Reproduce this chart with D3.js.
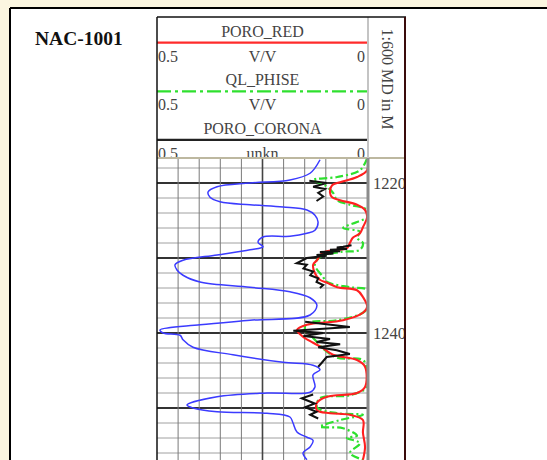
<!DOCTYPE html>
<html>
<head>
<meta charset="utf-8">
<script src="https://cdn.jsdelivr.net/npm/d3@7"></script>
<style>
  body { margin: 0; background: #fbf6e0; }
  svg { display: block; }
</style>
</head>
<body>
<div id="chart"></div>
<script>
const wellName = 'NAC-1001';
const depthScaleLabel = '1:600 MD in M';
const curveNames = ['PORO_RED', 'QL_PHISE', 'PORO_CORONA'];
const curveUnits = ['V/V', 'V/V', 'unkn'];
const scaleLeft = ['0.5', '0.5', '0.5'];
const scaleRight = ['0', '0', '0'];
const depthLabels = [1220, 1240];

// blue curve (header not shown), track scale 0..150
const blueDepth = [1216.9, 1218.7, 1219.6, 1220.0, 1220.5, 1221.2, 1221.9, 1222.5, 1222.9, 1223.2, 1223.6, 1224.3, 1225.2, 1226.3, 1226.7, 1227.1, 1227.2, 1227.9, 1228.5, 1228.9, 1229.6, 1230.3, 1230.9, 1231.6, 1232.3, 1233.2, 1233.9, 1234.5, 1235.3, 1236.3, 1237.6, 1238.3, 1238.9, 1239.6, 1240.0, 1240.3, 1240.9, 1241.9, 1242.9, 1243.9, 1244.3, 1244.9, 1245.6, 1247.2, 1247.9, 1248.0, 1248.5, 1249.6, 1250.0, 1250.5, 1250.7, 1251.2, 1252.0, 1253.2, 1253.9, 1254.3, 1255.2, 1256.0, 1256.9];
const blueValue = [115.9, 108.8, 94.5, 66.1, 42.7, 36.3, 37.7, 44.8, 66.1, 89.6, 106.6, 112.3, 114.5, 112.3, 106.6, 94.5, 75.4, 71.8, 75.4, 66.1, 42.7, 18.5, 12.8, 14.2, 18.5, 30.6, 66.1, 94.5, 108.8, 113.7, 108.8, 66.1, 30.6, 2.1, 4.3, 16.4, 18.5, 25.6, 54.0, 89.6, 110.9, 115.9, 110.9, 112.3, 108.8, 78.2, 42.7, 21.3, 25.6, 42.7, 78.2, 94.5, 96.7, 99.5, 106.6, 110.9, 108.8, 103.8, 106.6];

// PORO_RED, V/V, 0.5 (left) .. 0 (right)
const redDepth = [1216.7, 1218.3, 1219.2, 1219.9, 1220.3, 1221.3, 1221.9, 1222.3, 1222.9, 1223.6, 1224.5, 1225.9, 1226.7, 1227.3, 1228.0, 1228.7, 1228.9, 1229.3, 1230.3, 1230.9, 1232.0, 1232.9, 1233.3, 1233.9, 1234.3, 1235.2, 1236.5, 1237.3, 1238.3, 1238.9, 1239.6, 1240.5, 1241.3, 1242.0, 1242.9, 1243.6, 1244.5, 1247.2, 1248.0, 1248.5, 1249.3, 1250.3, 1250.7, 1250.9, 1251.6, 1253.3, 1255.2, 1256.9];
const redValue = [0.000, 0.002, 0.026, 0.066, 0.085, 0.090, 0.085, 0.066, 0.026, 0.007, 0.002, 0.012, 0.019, 0.036, 0.043, 0.050, 0.073, 0.107, 0.121, 0.130, 0.126, 0.114, 0.097, 0.073, 0.026, 0.012, 0.002, 0.012, 0.059, 0.145, 0.168, 0.154, 0.130, 0.107, 0.083, 0.026, 0.007, 0.007, 0.026, 0.097, 0.121, 0.121, 0.090, 0.043, 0.012, 0.012, 0.007, 0.012];

// QL_PHISE, V/V
const greenDepth = [1216.7, 1218.3, 1219.2, 1219.6, 1220.3, 1221.3, 1222.3, 1222.9, 1223.6, 1224.5, 1225.2, 1226.0, 1226.5, 1227.3, 1228.0, 1228.9, 1229.2, 1229.9, 1230.9, 1232.5, 1233.2, 1233.9, 1234.3, 1236.5, 1237.3, 1238.3, 1238.7, 1239.6, 1240.9, 1242.3, 1243.3, 1243.6, 1244.9, 1247.2, 1248.3, 1248.7, 1249.9, 1250.7, 1250.9, 1251.6, 1252.5, 1252.7, 1253.7, 1254.0, 1254.7, 1256.0, 1256.9];
const greenValue = [0.002, 0.019, 0.073, 0.130, 0.102, 0.083, 0.073, 0.043, 0.002, 0.000, 0.026, 0.059, 0.019, 0.026, 0.012, 0.019, 0.066, 0.114, 0.126, 0.107, 0.097, 0.043, 0.000, 0.000, 0.012, 0.073, 0.145, 0.149, 0.126, 0.102, 0.073, 0.012, 0.002, 0.002, 0.043, 0.114, 0.121, 0.073, 0.012, 0.066, 0.114, 0.059, 0.026, 0.050, 0.019, 0.043, 0.012];

// PORO_CORONA, unkn (null = no data)
const coronaDepth = [1219.7, 1220.0, 1220.5, 1220.8, 1221.3, 1221.8, 1222.4, null,
  1228.3, 1228.5, 1228.6, 1228.8, 1228.9, 1229.1, 1229.2, 1229.4, 1229.6, 1229.7, 1230.0, 1230.7, 1230.9, 1231.4, 1231.8, 1232.3, 1232.7, 1233.2, 1233.6, 1234.0, null,
  1238.5, 1239.2, 1239.7, 1240.0, 1240.4, 1240.8, 1241.2, 1241.5, 1241.9, 1242.3, 1242.8, 1243.2, 1244.0, 1244.5, null,
  1248.2, 1248.7, 1249.4, 1249.9, 1250.5, 1250.9, 1251.4];
const coronaValue = [0.139, 0.098, 0.130, 0.102, 0.118, 0.106, 0.122, null,
  0.039, 0.059, 0.074, 0.050, 0.090, 0.066, 0.114, 0.082, 0.122, 0.098, 0.145, 0.169, 0.145, 0.153, 0.130, 0.137, 0.118, 0.122, 0.106, 0.114, null,
  0.149, 0.043, 0.177, 0.106, 0.153, 0.090, 0.122, 0.066, 0.118, 0.074, 0.043, 0.098, 0.110, 0.118, null,
  0.130, 0.157, 0.126, 0.149, 0.122, 0.137, 0.118];

// ---- layout ----
const W = 547, H = 460;
const trackL = 157, trackR = 368, depthR = 405;
const boxTop = 17, headBottom = 158;
const serif = '"Liberation Serif", "DejaVu Serif", serif';

const svg = d3.select('#chart').append('svg')
  .attr('width', W).attr('height', H);

const defs = svg.append('defs');
defs.append('clipPath').attr('id', 'dataClip')
  .append('rect').attr('x', trackL).attr('y', headBottom).attr('width', trackR - trackL).attr('height', H - headBottom);
defs.append('clipPath').attr('id', 'headClip')
  .append('rect').attr('x', trackL).attr('y', boxTop).attr('width', depthR - trackL).attr('height', headBottom - boxTop);
defs.append('clipPath').attr('id', 'depthClip')
  .append('rect').attr('x', trackR).attr('y', headBottom).attr('width', depthR - trackR).attr('height', H - headBottom);

// white sheet inside the outer frame
svg.append('rect').attr('x', 10).attr('y', 8).attr('width', W).attr('height', H).attr('fill', '#fff');

// well name
svg.append('text')
  .attr('x', 35).attr('y', 45)
  .style('font-family', serif).style('font-size', '19.5px').style('font-weight', 'bold')
  .attr('fill', '#111')
  .text(wellName);

// scales
const y = d3.scaleLinear().domain([1220, 1240]).range([183, 333]);
const xPoro = d3.scaleLinear().domain([0.5, 0]).range([trackL, trackR]);
const xBlue = d3.scaleLinear().domain([0, 150]).range([trackL, trackR]);

// ---- header ----
const head = svg.append('g').attr('clip-path', 'url(#headClip)');
const rowGap = 48.6;
const lineColors = ['#ff2b2b', '#2ee02e', '#222'];
const headerData = curveNames.map((n, i) => ({ name: n, unit: curveUnits[i], l: scaleLeft[i], r: scaleRight[i], i }));

head.selectAll('g.curve-head')
  .data(headerData)
  .join('g')
  .attr('class', 'curve-head')
  .each(function (d) {
    const g = d3.select(this);
    const off = d.i * rowGap;
    const mid = (trackL + trackR) / 2;
    g.append('text').attr('x', mid).attr('y', 36.5 + off)
      .attr('text-anchor', 'middle')
      .style('font-family', serif).style('font-size', '16px').attr('fill', '#444')
      .text(d.name);
    const ln = g.append('line')
      .attr('x1', trackL).attr('x2', trackR)
      .attr('y1', 42.7 + off).attr('y2', 42.7 + off)
      .attr('stroke', lineColors[d.i]).attr('stroke-width', d.i === 2 ? 2.4 : 2.2);
    if (d.i === 1) ln.attr('stroke-dasharray', '14,4,3,4');
    g.append('text').attr('x', trackL + 1).attr('y', 61.5 + off)
      .style('font-family', serif).style('font-size', '16px').attr('fill', '#444')
      .text(d.l);
    g.append('text').attr('x', mid).attr('y', 61.5 + off)
      .attr('text-anchor', 'middle')
      .style('font-family', serif).style('font-size', '16px').attr('fill', '#444')
      .text(d.unit);
    g.append('text').attr('x', trackR - 3).attr('y', 61.5 + off)
      .attr('text-anchor', 'end')
      .style('font-family', serif).style('font-size', '16px').attr('fill', '#444')
      .text(d.r);
  });

// depth header, rotated text
svg.append('text')
  .attr('transform', `translate(${(trackR + depthR) / 2 - 5},79) rotate(90)`)
  .attr('text-anchor', 'middle')
  .style('font-family', serif).style('font-size', '16px').attr('fill', '#444')
  .text(depthScaleLabel);

// ---- grid ----
const grid = svg.append('g');
const depthTicks = d3.range(1218, 1257, 2);
grid.selectAll('line.h')
  .data(depthTicks)
  .join('line')
  .attr('class', 'h')
  .attr('x1', trackL).attr('x2', trackR)
  .attr('y1', d => y(d)).attr('y2', d => y(d))
  .attr('stroke', d => d % 10 === 0 ? '#333' : '#a0a0a0')
  .attr('stroke-width', d => d % 10 === 0 ? 2 : 1);

const poroTicks = xPoro.ticks(10).filter(t => t > 0.001 && t < 0.499);
grid.selectAll('line.v')
  .data(poroTicks)
  .join('line')
  .attr('class', 'v')
  .attr('x1', d => xPoro(d)).attr('x2', d => xPoro(d))
  .attr('y1', headBottom).attr('y2', H)
  .attr('stroke', d => Math.abs(d - 0.25) < 0.001 ? '#444' : '#7a7a7a')
  .attr('stroke-width', d => Math.abs(d - 0.25) < 0.001 ? 1.6 : 1);

// depth labels
svg.append('g').attr('clip-path', 'url(#depthClip)')
  .selectAll('text')
  .data(depthLabels)
  .join('text')
  .attr('x', trackR + 5).attr('y', d => y(d) + 5.5)
  .style('font-family', serif).style('font-size', '16.5px').attr('fill', '#444')
  .text(d => d);

// ---- curves ----
const curves = svg.append('g').attr('clip-path', 'url(#dataClip)');
const smooth = d3.curveCatmullRom.alpha(0.5);

const blueLine = d3.line().curve(smooth)
  .x((d, i) => xBlue(blueValue[i])).y(d => y(d));
curves.append('path').datum(blueDepth)
  .attr('d', blueLine).attr('fill', 'none')
  .attr('stroke', '#3b3bff').attr('stroke-width', 1.5);

const greenLine = d3.line().curve(smooth)
  .x((d, i) => xPoro(greenValue[i])).y(d => y(d));
curves.append('path').datum(greenDepth)
  .attr('d', greenLine).attr('fill', 'none')
  .attr('stroke', '#2ee02e').attr('stroke-width', 2.2)
  .attr('stroke-dasharray', '8,3,2,3');

const redLine = d3.line().curve(smooth)
  .x((d, i) => xPoro(redValue[i])).y(d => y(d));
curves.append('path').datum(redDepth)
  .attr('d', redLine).attr('fill', 'none')
  .attr('stroke', '#ff2020').attr('stroke-width', 2.1);

const coronaLine = d3.line()
  .defined(d => d != null)
  .x((d, i) => xPoro(coronaValue[i])).y(d => y(d));
curves.append('path').datum(coronaDepth)
  .attr('d', coronaLine).attr('fill', 'none')
  .attr('stroke', '#111').attr('stroke-width', 2);

// ---- frame lines ----
// header bottom
svg.append('line').attr('x1', trackL).attr('x2', depthR).attr('y1', headBottom).attr('y2', headBottom)
  .attr('stroke', '#bdb8a0').attr('stroke-width', 2);
// header divider
svg.append('line').attr('x1', trackR).attr('x2', trackR).attr('y1', boxTop).attr('y2', headBottom)
  .attr('stroke', '#c4c4c4').attr('stroke-width', 2);
// track right edge in data area
svg.append('line').attr('x1', trackR).attr('x2', trackR).attr('y1', headBottom).attr('y2', H)
  .attr('stroke', '#8c8c8c').attr('stroke-width', 3);
// box
svg.append('line').attr('x1', trackL).attr('x2', trackL).attr('y1', boxTop).attr('y2', H)
  .attr('stroke', '#111').attr('stroke-width', 1.5);
svg.append('line').attr('x1', trackL).attr('x2', depthR + 1).attr('y1', boxTop).attr('y2', boxTop)
  .attr('stroke', '#111').attr('stroke-width', 1.5);
svg.append('line').attr('x1', depthR).attr('x2', depthR).attr('y1', boxTop).attr('y2', H)
  .attr('stroke', '#3a0c0c').attr('stroke-width', 2);

// outer frame
svg.append('line').attr('x1', 10).attr('x2', W).attr('y1', 8).attr('y2', 8)
  .attr('stroke', '#000').attr('stroke-width', 2);
svg.append('line').attr('x1', 10).attr('x2', 10).attr('y1', 8).attr('y2', H)
  .attr('stroke', '#000').attr('stroke-width', 2);
</script>
</body>
</html>
